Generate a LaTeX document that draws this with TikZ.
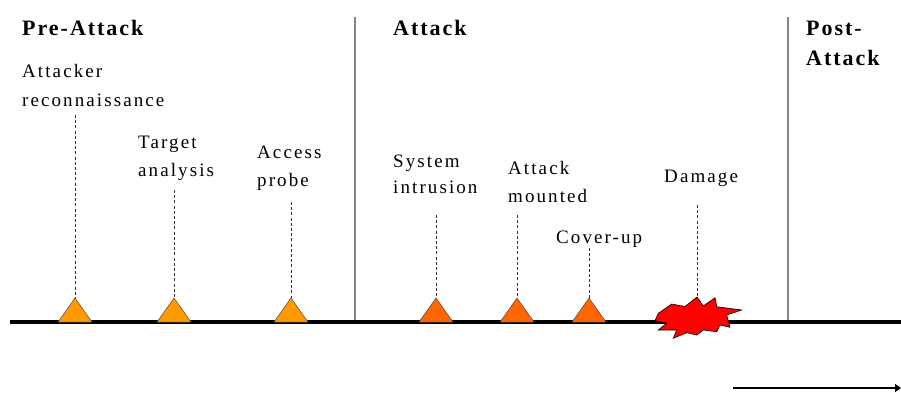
\documentclass[tikz,border=0pt]{standalone}
\usepackage{fontspec}
\setmainfont{Liberation Serif}
\newfontfamily\headfont[LetterSpace=9]{Liberation Serif}
\newfontfamily\labelfont[LetterSpace=11]{Liberation Serif}
\usetikzlibrary{arrows.meta}

\definecolor{preorange}{HTML}{FF9900}
\definecolor{atkorange}{HTML}{FF6600}
\definecolor{sepgray}{HTML}{858585}

\tikzset{
  heading/.style={anchor=base west, inner sep=0pt,
    font=\fontsize{22}{26}\headfont\bfseries},
  evlabel/.style={anchor=base west, inner sep=0pt,
    font=\fontsize{19}{23}\labelfont},
  separator/.style={draw=sepgray, line width=1.4pt},
  timeline/.style={draw=black, line width=3.6pt},
  marker/.style={draw=black!70, line width=0.5pt},
  leader/.style={draw=black!80, line width=0.8pt, dash pattern=on 3pt off 2.2pt},
  burst/.style={fill=red, draw=black, line width=0.6pt, line join=miter},
  flow/.style={draw=black, line width=1.4pt, -{Triangle[length=6pt,width=8pt]}}
}

\begin{document}
\begin{tikzpicture}[x=1pt,y=-1pt]
\useasboundingbox (0,0) rectangle (901,392);
\fill[white] (0,0) rectangle (901,392);

% phase separators
\coordinate (sepA-top) at (355,17);
\coordinate (sepA-bot) at (355,322);
\coordinate (sepB-top) at (788,17);
\coordinate (sepB-bot) at (788,322);
\draw[separator] (sepA-top) -- (sepA-bot);
\draw[separator] (sepB-top) -- (sepB-bot);

% time line
\coordinate (tl-start) at (10,322);
\coordinate (tl-end) at (901,322);
\draw[timeline] (tl-start) -- (tl-end);

% phase headings
\node[heading] (hpre)   at (22,35)  {Pre-Attack};
\node[heading] (hatk)   at (393,35) {Attack};
\node[heading] (hpost1) at (806,35) {Post-};
\node[heading] (hpost2) at (806,65) {Attack};

% event labels
\node[evlabel] (rec1) at (22,77)   {Attacker};
\node[evlabel] (rec2) at (22,106)  {reconnaissance};
\node[evlabel] (tgt1) at (138,148) {Target};
\node[evlabel] (tgt2) at (138,176) {analysis};
\node[evlabel] (acc1) at (257,158) {Access};
\node[evlabel] (acc2) at (257,186) {probe};
\node[evlabel] (sys1) at (393,167) {System};
\node[evlabel] (sys2) at (393,193) {intrusion};
\node[evlabel] (mnt1) at (508,174) {Attack};
\node[evlabel] (mnt2) at (508,202) {mounted};
\node[evlabel] (cov)  at (556,243) {Cover-up};
\node[evlabel] (dmg)  at (664,182) {Damage};

% event markers with leader lines
\foreach \n/\x/\c/\t in {rec/75/preorange/115, tgt/174/preorange/190,
                         acc/291/preorange/202, sys/436/atkorange/215,
                         mnt/517/atkorange/215, cov/589/atkorange/248} {
  \coordinate (\n-apex) at (\x,298);
  \coordinate (\n-top) at (\x,\t);
  \draw[marker, fill=\c] ({\x-17},322) -- (\n-apex) -- ({\x+17},322) -- cycle;
  \draw[leader] (\n-top) -- (\n-apex);
}

% damage burst
\coordinate (dmg-top) at (697,205);
\coordinate (dmg-tip) at (697,297);
\draw[leader] (dmg-top) -- (dmg-tip);
\draw[burst] (658.3,313.3) -- (671.7,304) -- (685,306.5) -- (dmg-tip)
  -- (703.3,306) -- (715,297.7) -- (716.7,306.7) -- (741.7,310)
  -- (726.7,315) -- (730,327.3) -- (720,325) -- (716.7,331.7)
  -- (703.3,330) -- (696.7,335) -- (686.7,332.7) -- (673.3,338.3)
  -- (676.7,330) -- (658.3,330) -- (666.7,323.3) -- (655,320.7) -- cycle;

% direction of time
\coordinate (ar-s) at (733,388);
\coordinate (ar-e) at (901,388);
\draw[flow] (ar-s) -- (ar-e);
\end{tikzpicture}
\end{document}
